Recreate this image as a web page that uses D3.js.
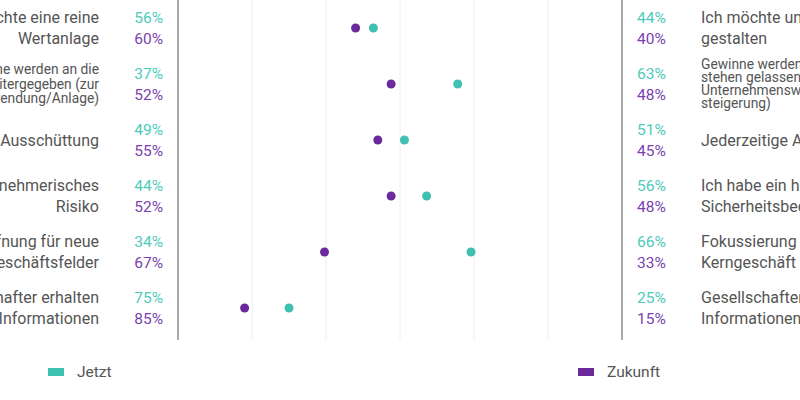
<!DOCTYPE html>
<html><head><meta charset="utf-8">
<script src="https://cdn.jsdelivr.net/npm/d3@7"></script>
<style>html,body{margin:0;padding:0;background:#fff;overflow:hidden}svg{display:block}</style>
</head><body>
<svg id="c" width="800" height="400"></svg>
<script>
const leftLabels = [
  ["Ich möchte eine reine","Wertanlage"],
  ["Gewinne werden an die","Gesellschafter weitergegeben (zur","freien Verwendung/Anlage)"],
  ["Regelmäßige Ausschüttung"],
  ["Ich trage gern unternehmerisches","Risiko"],
  ["Öffnung für neue","Geschäftsfelder"],
  ["Gesellschafter erhalten","alle Informationen"]
];
const rightLabels = [
  ["Ich möchte unternehmerisch mit","gestalten"],
  ["Gewinne werden im Unternehmen","stehen gelassen (zur","Unternehmenswert-","steigerung)"],
  ["Jederzeitige Ausschüttung"],
  ["Ich habe ein hohes","Sicherheitsbedürfnis"],
  ["Fokussierung auf das","Kerngeschäft"],
  ["Gesellschafter erhalten wenige","Informationen"]
];
const jetztLeft   = [56,37,49,44,34,75];
const zukunftLeft = [60,52,55,52,67,85];
const jetztRight  = [44,63,51,56,66,25];
const zukunftRight= [40,48,45,48,33,15];
const series = ["Jetzt","Zukunft"];

const colJ = "#3fc1b2", colZ = "#6a2a9c";
const txtJ = "#4ccbbd", txtZ = "#7b3fb0";
const grey = "#555";
const font = "Roboto, 'Noto Sans', sans-serif";

const svg = d3.select("#c");
const x = d3.scaleLinear().domain([0,100]).range([178,622]);
const y = d3.scaleBand().domain(d3.range(leftLabels.length)).range([0,336]);
const cy = i => y(i) + y.bandwidth()/2;

// gridlines
const gridVals = d3.range(1,6).map(k => k*100/6);
svg.append("g").selectAll("line").data(gridVals).join("line")
  .attr("x1", d=>x(d)).attr("x2", d=>x(d)).attr("y1",0).attr("y2",340)
  .attr("stroke","#eeeeee").attr("stroke-width",1);
// axis lines
svg.append("g").selectAll("line").data([0,100]).join("line")
  .attr("x1", d=>x(d)).attr("x2", d=>x(d)).attr("y1",0).attr("y2",340)
  .attr("stroke","#aaaaaa").attr("stroke-width",2);

function labelBlock(lines, i, xpos, anchor){
  const n = lines.length;
  const fs = n>2 ? 13.8 : 16;
  const lh = n>2 ? (n>3 ? 13 : 14.5) : 21;
  const g = svg.append("text").attr("text-anchor",anchor)
    .attr("font-family",font).attr("font-size",fs).attr("fill",grey);
  lines.forEach((t,k)=>{
    g.append("tspan").attr("x",xpos)
     .attr("y", cy(i) + (k-(n-1)/2)*lh)
     .attr("dy","0.35em").text(t);
  });
}
leftLabels.forEach((l,i)=>labelBlock(l,i,99,"end"));
rightLabels.forEach((l,i)=>labelBlock(l,i,701,"start"));

function pct(vals, xpos, anchor, off, color){
  svg.append("g").selectAll("text").data(vals).join("text")
    .attr("x",xpos).attr("y",(d,i)=>cy(i)+off).attr("dy","0.35em")
    .attr("text-anchor",anchor).attr("font-family",font).attr("font-size",15.5)
    .attr("fill",color).text(d=>d+"%");
}
pct(jetztLeft,163,"end",-10.5,txtJ);
pct(zukunftLeft,163,"end",10.5,txtZ);
pct(jetztRight,637,"start",-10.5,txtJ);
pct(zukunftRight,637,"start",10.5,txtZ);

// dots
svg.append("g").selectAll("circle").data(zukunftRight).join("circle")
  .attr("cx",d=>x(d)).attr("cy",(d,i)=>cy(i)).attr("r",4.5).attr("fill",colZ);
svg.append("g").selectAll("circle").data(jetztRight).join("circle")
  .attr("cx",d=>x(d)).attr("cy",(d,i)=>cy(i)).attr("r",4.5).attr("fill",colJ);

// legend
const legX = [48,578];
const lg = svg.append("g").selectAll("g").data(series).join("g")
  .attr("transform",(d,i)=>`translate(${legX[i]},372)`);
lg.append("rect").attr("x",0).attr("y",-4).attr("width",16).attr("height",8)
  .attr("fill",(d,i)=>i?colZ:colJ);
lg.append("text").attr("x",29).attr("y",0).attr("dy","0.35em")
  .attr("font-family",font).attr("font-size",15.5).attr("fill",grey).text(d=>d);
</script>
</body></html>
